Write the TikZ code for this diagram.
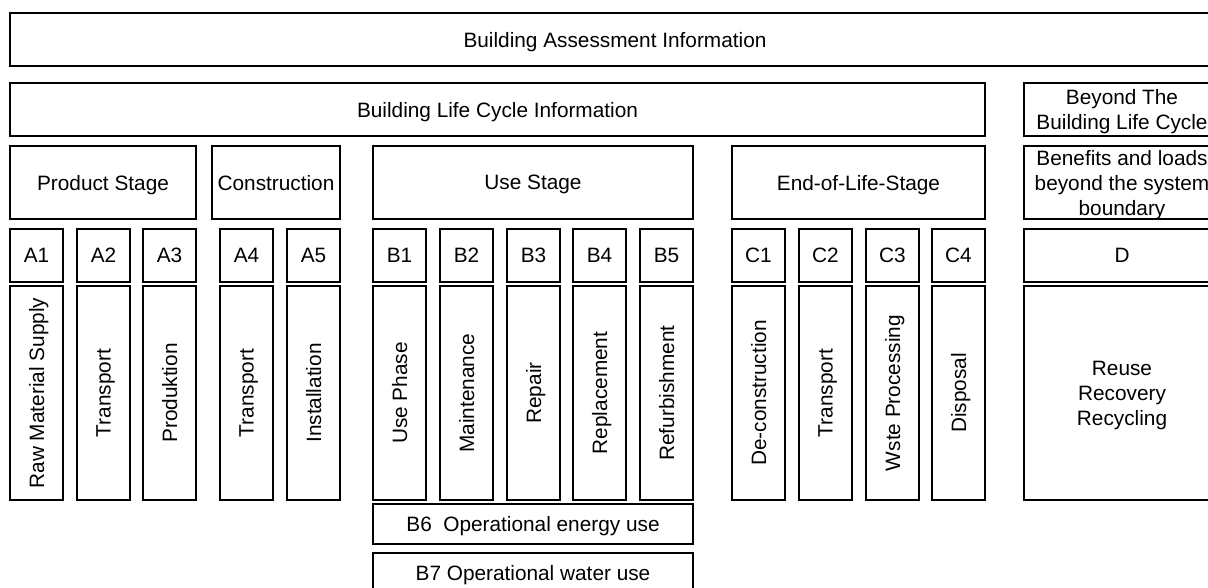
\documentclass[tikz,border=0pt]{standalone}
\usepackage{fontspec}
\setmainfont{Liberation Sans}
\usepackage{tikz}
\usetikzlibrary{positioning}

\begin{document}
\begin{tikzpicture}[
  x=1pt, y=-1pt,
  box/.style={draw, line width=1.3pt, inner sep=0pt, text depth=0pt, font=\fontsize{20.8}{25}\selectfont, align=center, anchor=center},
  band/.style={box, minimum height=53pt},
  stage/.style={box, minimum height=73pt},
  module/.style={box, minimum width=53pt, minimum height=53pt},
  process/.style={box, rotate=90, minimum width=214pt, minimum height=53pt},
  extra/.style={box, minimum width=320pt, minimum height=40pt},
]
\useasboundingbox (0,0) rectangle (1208,587);
\clip (0,0) rectangle (1208,587);

% Top bands
\node[band, minimum width=1210pt] (assess) at (615, 39.5) {Building Assessment Information};
\node[band, minimum width=975pt] (lifecycle) at (497.5, 109.5) {Building Life Cycle Information};
\node[band, minimum width=196pt] (beyond) at (1122, 109.5) {Beyond The\\Building Life Cycle};

% Stages
\node[stage, minimum width=186pt] (product) at (103, 182.5) {Product Stage};
\node[stage, minimum width=128pt] (constr) at (276, 182.5) {Construction};
\node[stage, minimum width=320pt] (usestage) at (533, 182.5) {Use Stage};
\node[stage, minimum width=253pt] (eol) at (858.5, 182.5) {End-of-Life-Stage};
\node[stage, minimum width=196pt] (benefit) at (1122, 182.5) {Benefits and loads\\beyond the system\\boundary};

% Module codes
\node[module] (a1) at (36.5, 255.5) {A1};
\node[module] (a2) at (103.5, 255.5) {A2};
\node[module] (a3) at (169.5, 255.5) {A3};
\node[module] (a4) at (246.5, 255.5) {A4};
\node[module] (a5) at (313.5, 255.5) {A5};
\node[module] (b1) at (399.5, 255.5) {B1};
\node[module] (b2) at (466.5, 255.5) {B2};
\node[module] (b3) at (533.5, 255.5) {B3};
\node[module] (b4) at (599.5, 255.5) {B4};
\node[module] (b5) at (666.5, 255.5) {B5};
\node[module] (c1) at (758.5, 255.5) {C1};
\node[module] (c2) at (825.5, 255.5) {C2};
\node[module] (c3) at (892.5, 255.5) {C3};
\node[module] (c4) at (958.5, 255.5) {C4};
\node[module, minimum width=196pt] (d) at (1122, 255.5) {D};

% Processes (rotated columns)
\node[process] (rawmat) at (36.5, 393) {Raw Material Supply};
\node[process] (transa) at (103.5, 393) {Transport};
\node[process] (produk) at (169.5, 393) {Produktion};
\node[process] (transb) at (246.5, 393) {Transport};
\node[process] (install) at (313.5, 393) {Installation};
\node[process] (usephase) at (399.5, 393) {Use Phase};
\node[process] (maint) at (466.5, 393) {Maintenance};
\node[process] (repair) at (533.5, 393) {Repair};
\node[process] (replace) at (599.5, 393) {Replacement};
\node[process] (refurb) at (666.5, 393) {Refurbishment};
\node[process] (decon) at (758.5, 393) {De-construction};
\node[process] (transc) at (825.5, 393) {Transport};
\node[process] (waste) at (892.5, 393) {Wste Processing};
\node[process] (dispos) at (958.5, 393) {Disposal};
\node[box, minimum width=196pt, minimum height=214pt] (reuse) at (1122, 393) {Reuse\\Recovery\\Recycling};

% Operational use
\node[extra] (energy) at (533, 524) {B6\ \ Operational energy use};
\node[extra] (water) at (533, 573) {B7 Operational water use};

\end{tikzpicture}
\end{document}
